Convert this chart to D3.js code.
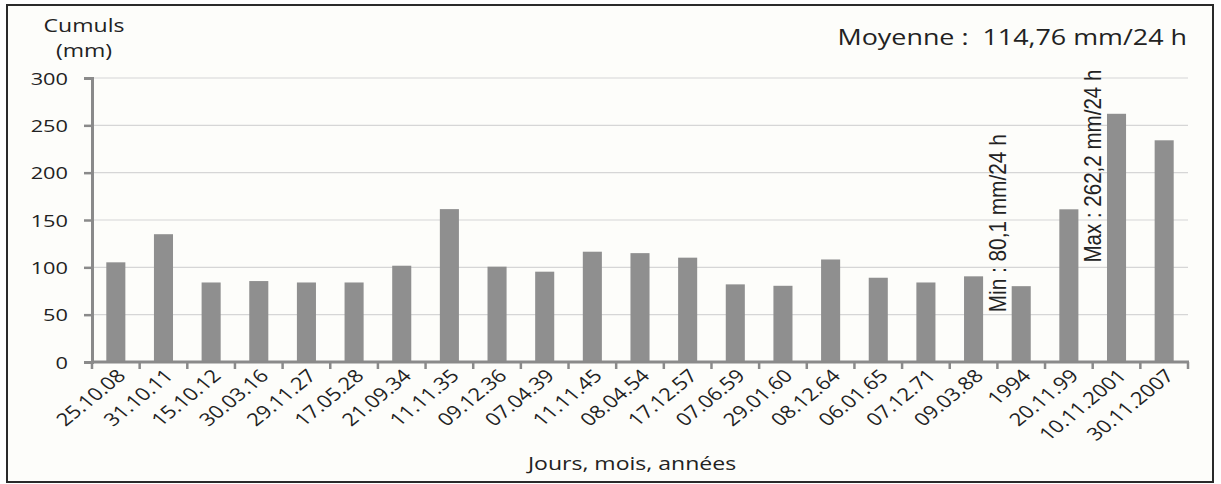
<!DOCTYPE html>
<html><head><meta charset="utf-8">
<script src="https://cdn.jsdelivr.net/npm/d3@7/dist/d3.min.js"></script>
<style>
html,body{margin:0;padding:0;background:#fff;}
svg{display:block;}
text{font-family:"Open Sans","Noto Sans",sans-serif;fill:#222;}
</style></head>
<body>
<script>
const categories = ["25.10.08","31.10.11","15.10.12","30.03.16","29.11.27","17.05.28","21.09.34","11.11.35","09.12.36","07.04.39","11.11.45","08.04.54","17.12.57","07.06.59","29.01.60","08.12.64","06.01.65","07.12.71","09.03.88","1994","20.11.99","10.11.2001","30.11.2007"];
const values = [105.3,135,84,85.5,84,84,101.7,161.5,100.7,95.4,116.5,115,110.2,82,80.5,108.3,89,84,90.5,80.1,161.3,262.2,234.2];
const yTicks = [0,50,100,150,200,250,300];
const yTitle = ["Cumuls","(mm)"];
const xTitle = "Jours, mois, années";
const meanText = "Moyenne :  114,76 mm/24 h";
// annotations sit in the gap before the given category; "at" = value where the text starts
const annotations = [{cat:"1994", text:"Min : 80,1 mm/24 h", at:52.5, len:178},
                     {cat:"10.11.2001", text:"Max : 262,2 mm/24 h", at:105, len:193}];

const W=1221,H=484, SX=1.28;
const m={left:92,right:33,top:78,bottom:122};
const svg=d3.select("body").append("svg").attr("width",W).attr("height",H);
svg.append("rect").attr("x",0).attr("y",0).attr("width",W).attr("height",H).attr("fill","#fff");
svg.append("rect").attr("x",7).attr("y",5).attr("width",1206).attr("height",477)
  .attr("fill","#fdfdfa").attr("stroke","#2a2a2a").attr("stroke-width",2);

const x=d3.scaleBand().domain(categories).range([m.left,W-m.right]).paddingInner(0.6).paddingOuter(0.3);
const y=d3.scaleLinear().domain([0,300]).range([H-m.bottom,m.top]);

// grid
svg.append("g").selectAll("line").data(yTicks.filter(d=>d>0)).join("line")
  .attr("x1",m.left).attr("x2",W-m.right).attr("y1",d=>y(d)).attr("y2",d=>y(d))
  .attr("stroke","#d6d6d6").attr("stroke-width",1.2);

// bars
svg.append("g").selectAll("rect").data(values).join("rect")
  .attr("x",(d,i)=>x(categories[i])).attr("width",x.bandwidth())
  .attr("y",d=>y(d)).attr("height",d=>y(0)-y(d)).attr("fill","#8f8f8f");

// y axis
const ya=svg.append("g").attr("transform",`translate(${m.left},0)`)
  .call(d3.axisLeft(y).tickValues(yTicks).tickSize(8));
ya.select(".domain").attr("stroke","#8a8a8a").attr("stroke-width",3);
ya.selectAll(".tick line").attr("stroke","#8a8a8a").attr("stroke-width",2.5);
ya.selectAll(".tick text").attr("x",0).attr("dy",null).attr("y",6)
  .attr("transform",`translate(-24,0) scale(${SX},1)`)
  .style("font-size","17px").attr("fill","#222").style("font-family",'"Open Sans",sans-serif');

// x axis
const step=x.step();
const bounds=categories.map(c=>x(c)-(step-x.bandwidth())/2).concat([W-m.right]);
const xa=svg.append("g");
xa.append("line").attr("x1",m.left-1).attr("x2",W-m.right+1).attr("y1",y(0)).attr("y2",y(0))
  .attr("stroke","#8a8a8a").attr("stroke-width",3);
xa.selectAll("line.t").data(bounds).join("line").attr("class","t")
  .attr("x1",d=>d).attr("x2",d=>d).attr("y1",y(0)).attr("y2",y(0)+7)
  .attr("stroke","#8a8a8a").attr("stroke-width",2.5);
xa.selectAll("text").data(categories).join("text")
  .attr("transform",d=>`translate(${x(d)+x.bandwidth()/2+11},${y(0)+15}) scale(1.22,1) rotate(-45)`)
  .attr("text-anchor","end").style("font-size","18px").text(d=>d);

// titles
function stretched(tx,ty,anchor,size,txt){
  svg.append("text").attr("transform",`translate(${tx},${ty}) scale(${SX},1)`)
    .attr("text-anchor",anchor).style("font-size",size+"px").style("white-space","pre").text(txt);
}
stretched(84,32,"middle",18,yTitle[0]);
stretched(84,57,"middle",18,yTitle[1]);
stretched(632,470,"middle",18,xTitle);
stretched(1187,45,"end",21,meanText);

// annotations
annotations.forEach(a=>{
  const bx=x(a.cat)-(step-x.bandwidth())/2;
  svg.append("text").attr("transform",`translate(${bx+8.5},${y(a.at)}) rotate(-90)`)
    .attr("text-anchor","start").attr("textLength",a.len).attr("lengthAdjust","spacingAndGlyphs")
    .style("font-family",'"Liberation Sans",Arial,sans-serif').style("font-size","24px").text(a.text);
});
</script>
</body></html>
